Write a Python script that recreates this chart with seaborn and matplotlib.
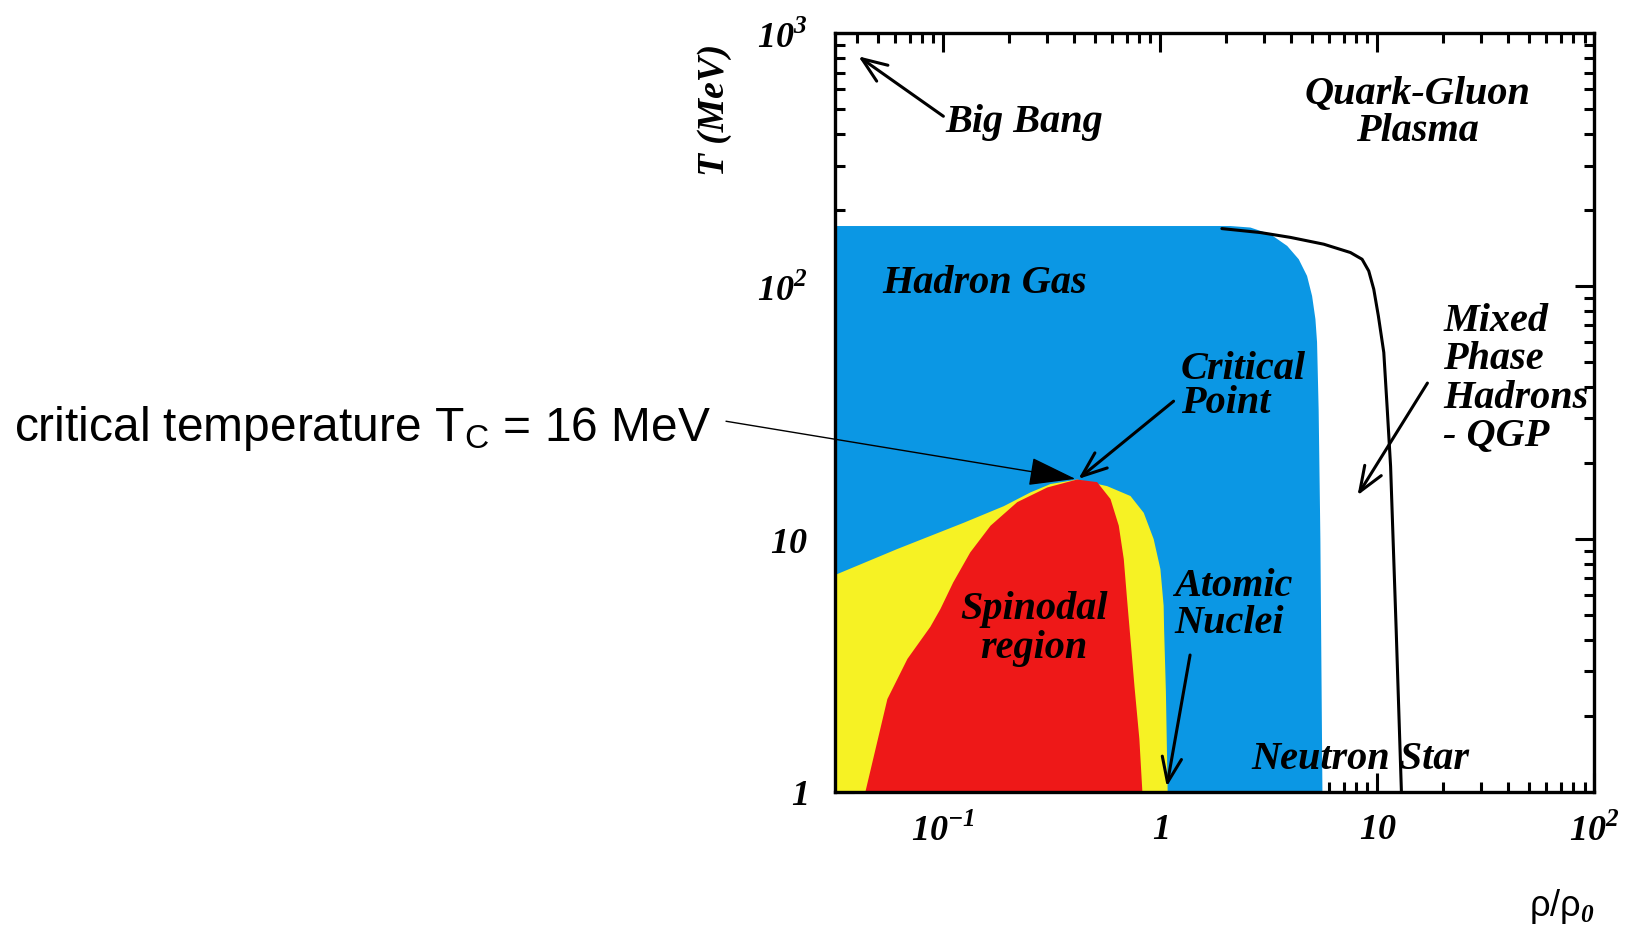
import matplotlib
matplotlib.use("Agg")
import matplotlib.pyplot as plt
import seaborn as sns
from matplotlib.ticker import FixedLocator, FixedFormatter, LogLocator, NullFormatter

sns.set_theme(style="white")
plt.rcParams.update({
    "font.family": ["Liberation Serif", "DejaVu Serif"],
    "mathtext.fontset": "custom",
    "mathtext.rm": "Liberation Serif:style=italic:weight=bold",
    "mathtext.it": "Liberation Sans:style=italic",
    "axes.edgecolor": "black",
    "text.color": "black",
    "xtick.color": "black",
    "ytick.color": "black",
})

# phase regions (rho/rho0, T in MeV)
hadron_x = [0.0316, 2.1, 2.60, 3.21, 3.84, 4.34, 4.74, 5.00, 5.18, 5.27, 5.36, 5.46, 5.58, 0.0316]
hadron_T = [173, 173, 170.6, 160.6, 144.3, 127.8, 109.8, 91.5, 74.1, 60.1, 32.6, 10, 1, 1]

coexist_x = [0.0316, 0.0324, 0.0612, 0.124, 0.190, 0.252, 0.311, 0.413, 0.568, 0.728,
             0.838, 0.931, 1.0, 1.035, 1.04, 1.06, 1.08, 0.0316]
coexist_T = [7.2, 7.27, 9.13, 11.6, 13.5, 15.3, 16.5, 17.2, 16.2, 14.8,
             12.7, 10.0, 7.61, 5.45, 4.4, 2.5, 1, 1]

spinodal_x = [0.0437, 0.0552, 0.0683, 0.0871, 0.0969, 0.111, 0.133, 0.165, 0.219, 0.301, 0.413,
              0.511, 0.589, 0.643, 0.678, 0.702, 0.728, 0.76, 0.8, 0.826]
spinodal_T = [1, 2.33, 3.36, 4.5, 5.29, 6.74, 8.86, 11.3, 14.0, 16.0, 17.2,
              16.8, 14.4, 11.3, 8.34, 5.79, 4.02, 2.6, 1.62, 1]

qgp_x = [1.92, 2.89, 3.97, 5.66, 7.51, 8.50, 9.12, 9.62, 10.1, 10.7, 11.1, 11.5, 12.2, 12.9]
qgp_T = [169, 163, 156, 146.6, 135.9, 127.8, 114.9, 97.3, 76.3, 54.7, 32.6, 19.4, 4.4, 1]

x_ticks = [0.1, 1, 10, 100]
x_labels = [r"$10^{-1}$", r"$1$", r"$10$", r"$10^{2}$"]
y_ticks = [1, 10, 100, 1000]
y_labels = [r"$1$", r"$10$", r"$10^{2}$", r"$10^{3}$"]

T_crit = 16

lab = dict(family="Liberation Serif", weight="bold", style="italic", size=29)

fig = plt.figure(figsize=(16.37, 9.28), dpi=100)
ax = fig.add_axes([0.510, 0.1455, 0.464, 0.8175])
ax.set_xscale("log")
ax.set_yscale("log")

ax.fill(hadron_x, hadron_T, color="#0B97E4", lw=0)
ax.fill(coexist_x, coexist_T, color="#F6F224", lw=0)
ax.fill(spinodal_x, spinodal_T, color="#EE1818", lw=0)
sns.lineplot(x=qgp_x, y=qgp_T, sort=False, estimator=None, color="black", lw=2.2, ax=ax)

ax.set_xlim(10 ** -1.5, 100)
ax.set_ylim(1, 1000)

ax.xaxis.set_major_locator(FixedLocator(x_ticks))
ax.xaxis.set_major_formatter(FixedFormatter(x_labels))
ax.yaxis.set_major_locator(FixedLocator(y_ticks))
ax.yaxis.set_major_formatter(FixedFormatter(y_labels))
for axis in (ax.xaxis, ax.yaxis):
    axis.set_minor_locator(LogLocator(base=10, subs=range(2, 10), numticks=20))
    axis.set_minor_formatter(NullFormatter())

ax.tick_params(which="both", direction="in", bottom=True, left=True, top=True, right=True,
               color="black", width=2.2)
ax.tick_params(which="major", length=14)
ax.tick_params(which="minor", length=7)
ax.tick_params(axis="x", which="major", pad=15, labelsize=26)
ax.tick_params(axis="y", which="major", pad=20, labelsize=26)
for s in ax.spines.values():
    s.set_linewidth(2.4)
    s.set_color("black")

ax.text(-0.158, 0.90, "T (MeV)", transform=ax.transAxes, rotation=90,
        ha="center", va="center", **dict(lab, size=27))
ax.text(0.957, -0.149, r"ρ/ρ$_{\mathit{0}}$", transform=ax.transAxes,
        ha="center", va="center", family="Liberation Sans", size=26)

ax.text(0.102, 449, "Big Bang", ha="left", va="center", **lab)
ax.text(15.3, 487, "Quark-Gluon\nPlasma", ha="center", va="center", linespacing=1.0, **lab)
ax.text(0.0524, 103, "Hadron Gas", ha="left", va="center", **lab)
ax.text(1.24, 40.6, "Critical\nPoint", ha="left", va="center", linespacing=0.9, **lab)
ax.text(20.1, 43.3, "Mixed\nPhase\nHadrons\n- QGP", ha="left", va="center", linespacing=1.05, **lab)
ax.text(0.262, 4.45, "Spinodal\nregion", ha="center", va="center", linespacing=1.05, **lab)
ax.text(1.16, 5.53, "Atomic\nNuclei", ha="left", va="center", linespacing=1.0, **lab)
ax.text(2.62, 1.36, "Neutron Star", ha="left", va="center", **lab)

arrow = dict(arrowstyle="->,head_length=0.9,head_width=0.35", color="black", lw=2.2,
             shrinkA=0, shrinkB=0, mutation_scale=20)
ax.annotate("", xy=(0.0406, 811), xytext=(0.1, 470), arrowprops=arrow)
ax.annotate("", xy=(0.419, 17.3), xytext=(1.15, 35.1), arrowprops=arrow)
ax.annotate("", xy=(8.1, 14.9), xytext=(17.0, 41.4), arrowprops=arrow)
ax.annotate("", xy=(1.07, 1.05), xytext=(1.37, 3.48), arrowprops=arrow)

fig.text(0.0086, 0.525, r"critical temperature T$_\mathregular{C}$ = %d MeV" % T_crit,
         ha="left", va="baseline", family="Liberation Sans", size=34.5)
ax.annotate("", xy=(0.406, 17.3), xycoords="data", xytext=(0.4435, 0.545),
            textcoords="figure fraction",
            arrowprops=dict(arrowstyle="-|>,head_length=1.5,head_width=0.45", color="black",
                            lw=1.0, shrinkA=0, shrinkB=0, mutation_scale=20))

fig.savefig("out.png", dpi=100)
